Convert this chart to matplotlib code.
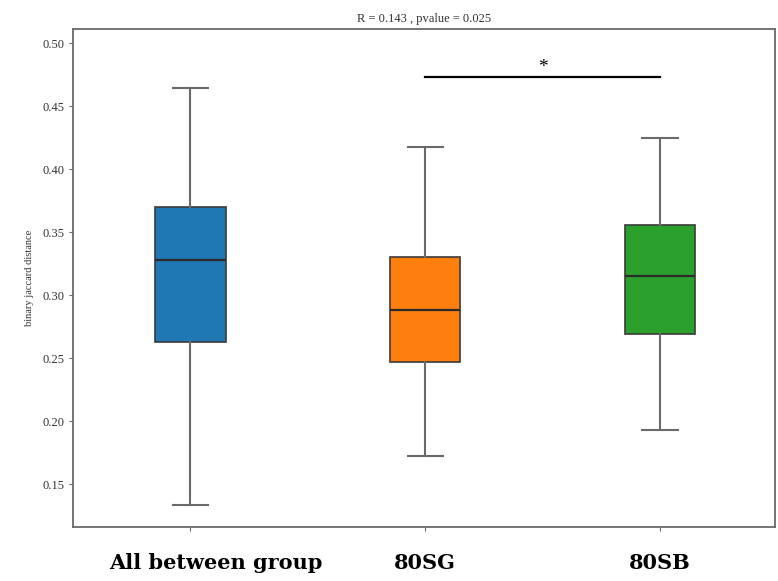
import matplotlib
matplotlib.use("Agg")
import matplotlib.pyplot as plt
import matplotlib.transforms as mtransforms

# group labels and box summary values (jaccard distance)
groups = ["All between group", "80SG", "80SB"]
whislo = [0.133, 0.172, 0.193]
q1 = [0.263, 0.247, 0.269]
med = [0.328, 0.288, 0.315]
q3 = [0.370, 0.330, 0.356]
whishi = [0.465, 0.4175, 0.425]
colors = ["#1f77b4", "#ff7f0e", "#2ca02c"]

# significance bar between 80SG and 80SB
sig_pair = (1, 2)
sig_y = 0.4734
sig_text = "*"
title = "R = 0.143 , pvalue = 0.025"

plt.rcParams["font.family"] = ["Liberation Serif", "DejaVu Serif"]

fig = plt.figure(figsize=(7.78, 5.81), dpi=100)
ax = fig.add_axes([0.0938, 0.0929, 0.9023, 0.8572])

stats = []
for i, g in enumerate(groups):
    stats.append(dict(label=g, whislo=whislo[i], q1=q1[i], med=med[i],
                      q3=q3[i], whishi=whishi[i], fliers=[]))

line_gray = "#6a6a6a"
bp = ax.bxp(stats, positions=range(len(groups)), widths=0.3, patch_artist=True,
            showfliers=False,
            boxprops=dict(edgecolor="#3a3a3a", linewidth=1.2),
            medianprops=dict(color="#2a2a2a", linewidth=1.6),
            whiskerprops=dict(color=line_gray, linewidth=1.5),
            capprops=dict(color=line_gray, linewidth=1.5),
            capwidths=0.15)
for patch, c in zip(bp["boxes"], colors):
    patch.set_facecolor(c)

x0, x1 = sig_pair
ax.plot([x0, x1], [sig_y, sig_y], color="black", linewidth=1.6)
ax.text((x0 + x1) / 2, sig_y + 0.001, sig_text, ha="center", va="bottom",
        fontsize=14)

ax.set_xlim(-0.5, 2.49)
ax.set_ylim(0.1159, 0.5115)
ax.set_yticks([0.15, 0.20, 0.25, 0.30, 0.35, 0.40, 0.45, 0.50])
ax.set_yticklabels([f"{v:.2f}" for v in ax.get_yticks()], fontsize=9, color="#333333")
ax.set_xticks(range(len(groups)))
ax.set_xticklabels(groups, fontsize=15, fontweight="bold", family="DejaVu Serif")
ax.tick_params(axis="x", length=3, pad=16, color=line_gray)
ax.tick_params(axis="y", length=3, pad=3, color=line_gray)
ax.set_ylabel("binary jaccard distance", fontsize=7.5, color="#333333", labelpad=6)
ax.set_title(title, fontsize=9, color="#333333", pad=5)

# the long first label sits a bit right of its tick
first = ax.get_xticklabels()[0]
first.set_transform(first.get_transform() +
                    mtransforms.ScaledTranslation(25 / 100, 0, fig.dpi_scale_trans))

for s in ax.spines.values():
    s.set_color(line_gray)
    s.set_linewidth(1.3)

fig.savefig("out.png", dpi=100)
